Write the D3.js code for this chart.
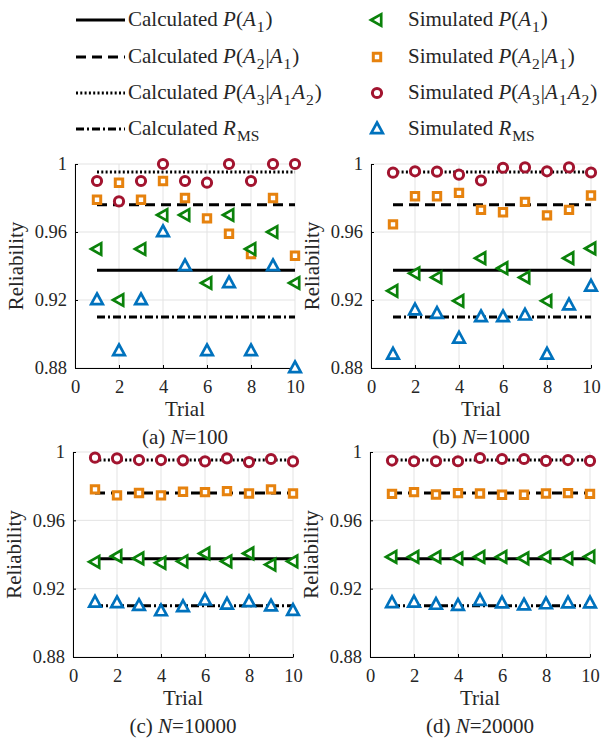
<!DOCTYPE html>
<html>
<head>
<meta charset="utf-8">
<script src="https://cdn.jsdelivr.net/npm/d3@7"></script>
<style>
  body { margin: 0; background: #fff; }
  svg text { font-family: "Liberation Serif", "Times New Roman", serif; fill: #262626; }
</style>
</head>
<body>
<div id="main"></div>
<script>
// ---- data ----
const trials = [1, 2, 3, 4, 5, 6, 7, 8, 9, 10];
const xTicks = [0, 2, 4, 6, 8, 10];
const yTicks = [0.88, 0.92, 0.96, 1];
const yTickLabels = ["0.88", "0.92", "0.96", "1"];

// calculated values (same in every panel)
const calcA1 = 0.9375;
const calcA2 = 0.976;
const calcA3 = 0.9953;
const calcRms = 0.910;

const panelNames = ["(a) ", "(b) ", "(c) ", "(d) "];
const panelN = ["100", "1000", "10000", "20000"];

// simulated values, one array per panel
const simA1 = [
  [0.95, 0.92, 0.95, 0.97, 0.97, 0.93, 0.97, 0.95, 0.96, 0.93],
  [0.9254, 0.9357, 0.9333, 0.9195, 0.9446, 0.9387, 0.9333, 0.9195, 0.9446, 0.9503],
  [0.9357, 0.939, 0.9377, 0.9351, 0.936, 0.9406, 0.936, 0.9406, 0.9341, 0.936],
  [0.9386, 0.9386, 0.9386, 0.9378, 0.9386, 0.9386, 0.9378, 0.9386, 0.9378, 0.9388]
];
const simA2 = [
  [0.979, 0.989, 0.979, 0.99, 0.98, 0.968, 0.959, 0.947, 0.98, 0.946],
  [0.9645, 0.981, 0.981, 0.983, 0.973, 0.9716, 0.9777, 0.9698, 0.973, 0.9815],
  [0.9781, 0.9746, 0.976, 0.9746, 0.9767, 0.9765, 0.9771, 0.9757, 0.9781, 0.9757],
  [0.9755, 0.9765, 0.9751, 0.9759, 0.9757, 0.975, 0.975, 0.9757, 0.9759, 0.9755]
];
const simA3 = [
  [0.99, 0.978, 0.99, 1, 0.99, 0.989, 1, 0.99, 1, 1],
  [0.9949, 0.9957, 0.9955, 0.9937, 0.9903, 0.9978, 0.998, 0.9957, 0.998, 0.995],
  [0.9967, 0.9963, 0.9953, 0.9953, 0.9951, 0.9945, 0.9963, 0.9941, 0.9959, 0.9945],
  [0.995, 0.9946, 0.9946, 0.9946, 0.9965, 0.9959, 0.9959, 0.9948, 0.9953, 0.9948]
];
const simRms = [
  [0.92, 0.89, 0.92, 0.96, 0.94, 0.89, 0.93, 0.89, 0.94, 0.88],
  [0.888, 0.914, 0.912, 0.8974, 0.91, 0.91, 0.911, 0.888, 0.917, 0.928],
  [0.912, 0.9116, 0.91, 0.9069, 0.9093, 0.9132, 0.9108, 0.9122, 0.9097, 0.9071],
  [0.9117, 0.912, 0.9107, 0.9101, 0.913, 0.9115, 0.9103, 0.911, 0.9115, 0.9115]
];

// ---- style ----
const red = "#a2142f", orange = "#e6820e", green = "#0a820a", blue = "#0072bd";
const dashes = { solid: null, dashed: "10,6", dotted: "2,2.3", dashdot: "8,3,2,3" };
const serif = "'Liberation Serif', 'Times New Roman', serif";

const svgWidth = 616, svgHeight = 738;
const svg = d3.select("#main").append("svg")
  .attr("width", svgWidth)
  .attr("height", svgHeight);

// marker paths centred on 0,0
const markerPath = {
  left: "M-6,0L4.2,-5.8L4.2,5.8Z",
  up: "M0,-6.5L5.8,4.2L-5.8,4.2Z",
  square: "M-3.7,-3.7H3.7V3.7H-3.7Z"
};

function drawMarker(g, kind, color, cx, cy) {
  if (kind === "circle") {
    g.append("circle").attr("cx", cx).attr("cy", cy).attr("r", 4.6)
      .attr("fill", "#fff").attr("stroke", color).attr("stroke-width", 3);
  } else {
    g.append("path").attr("d", markerPath[kind])
      .attr("transform", "translate(" + cx + "," + cy + ")")
      .attr("fill", "#fff").attr("stroke", color)
      .attr("stroke-width", kind === "square" ? 3 : 2.7)
      .attr("stroke-linejoin", "miter");
  }
}

// ---- legend ----
const legendCalc = [
  [["Calculated ", ""], ["P", "i"], ["(", ""], ["A", "i"], ["1", "s"], [")", ""]],
  [["Calculated ", ""], ["P", "i"], ["(", ""], ["A", "i"], ["2", "s"], ["|", ""], ["A", "i"], ["1", "s"], [")", ""]],
  [["Calculated ", ""], ["P", "i"], ["(", ""], ["A", "i"], ["3", "s"], ["|", ""], ["A", "i"], ["1", "s"], ["A", "i"], ["2", "s"], [")", ""]],
  [["Calculated ", ""], ["R", "i"], ["MS", "s"]]
];
const legendSim = legendCalc.map(parts => [["Simulated ", ""]].concat(parts.slice(1)));
const legendDash = ["solid", "dashed", "dotted", "dashdot"];
const legendMarker = ["left", "square", "circle", "up"];
const legendColor = [green, orange, red, blue];
const legendRows = [20, 57, 93, 129];

function richText(g, x, y, parts) {
  const t = g.append("text").attr("x", x).attr("y", y).style("font-size", "21px");
  let shifted = false;
  parts.forEach(p => {
    const s = t.append("tspan").text(p[0]);
    if (p[1] === "i") s.style("font-style", "italic");
    if (p[1] === "s") {
      s.style("font-size", "15.5px").attr("dx", shifted ? 0 : 1).attr("dy", shifted ? 0 : 6);
      shifted = true;
    } else if (shifted) {
      s.attr("dy", -6).attr("dx", 1);
      shifted = false;
    }
  });
  return t;
}

const legend = svg.append("g");
legendRows.forEach((ry, i) => {
  legend.append("line")
    .attr("x1", 76).attr("x2", 125).attr("y1", ry).attr("y2", ry)
    .attr("stroke", "#000").attr("stroke-width", 3)
    .attr("stroke-dasharray", dashes[legendDash[i]]);
  richText(legend, 128, ry + 6, legendCalc[i]);
  drawMarker(legend, legendMarker[i], legendColor[i], 377, ry);
  richText(legend, 408, ry + 6, legendSim[i]);
});

// ---- panels ----
const panels = [
  { left: 75, top: 164, bottom: 368 },
  { left: 371, top: 164, bottom: 368 },
  { left: 73, top: 452, bottom: 657 },
  { left: 370, top: 452, bottom: 657 }
];
const plotWidth = 220;

panels.forEach((p, k) => {
  const g = svg.append("g");
  const x = d3.scaleLinear().domain([0, 10]).range([p.left, p.left + plotWidth]);
  const y = d3.scaleLinear().domain([0.88, 1]).range([p.bottom, p.top]);

  // grid
  g.selectAll(".gx").data(xTicks).enter().append("line")
    .attr("x1", d => x(d)).attr("x2", d => x(d))
    .attr("y1", p.top).attr("y2", p.bottom)
    .attr("stroke", "#e3e3e3").attr("stroke-width", 1);
  g.selectAll(".gy").data(yTicks).enter().append("line")
    .attr("x1", x(0)).attr("x2", x(10))
    .attr("y1", d => y(d)).attr("y2", d => y(d))
    .attr("stroke", "#e3e3e3").attr("stroke-width", 1);

  // axes
  const xAxis = d3.axisBottom(x).tickValues(xTicks).tickFormat(d3.format("d"))
    .tickSizeInner(-3).tickSizeOuter(0).tickPadding(12);
  const yAxis = d3.axisLeft(y).tickValues(yTicks).tickFormat((d, i) => yTickLabels[i])
    .tickSizeInner(-3).tickSizeOuter(0).tickPadding(8);

  const gx = g.append("g").attr("transform", "translate(0," + p.bottom + ")").call(xAxis);
  const gy = g.append("g").attr("transform", "translate(" + p.left + ",0)").call(yAxis);
  [gx, gy].forEach(a => {
    a.attr("font-family", serif).attr("font-size", 18);
    a.selectAll("text").style("font-size", "18.5px").style("font-family", serif).attr("fill", "#262626");
    a.select(".domain").attr("stroke", "#000");
    a.selectAll(".tick line").attr("stroke", "#000");
  });

  // labels
  g.append("text")
    .attr("transform", "translate(" + (p.left - 59) + "," + ((p.top + p.bottom) / 2) + ") rotate(-90)")
    .attr("text-anchor", "middle").attr("dy", "0.35em")
    .style("font-size", "21px").text("Reliability");
  g.append("text")
    .attr("x", x(5)).attr("y", p.bottom + 41).attr("dy", "0.35em")
    .attr("text-anchor", "middle").style("font-size", "21px").text("Trial");
  const cap = g.append("text")
    .attr("x", x(5)).attr("y", p.bottom + 69).attr("dy", "0.35em")
    .attr("text-anchor", "middle").style("font-size", "21px");
  cap.append("tspan").text(panelNames[k]);
  cap.append("tspan").style("font-style", "italic").text("N");
  cap.append("tspan").text("=" + panelN[k]);

  // calculated lines
  const calc = [[calcA1, "solid"], [calcA2, "dashed"], [calcA3, "dotted"], [calcRms, "dashdot"]];
  calc.forEach(c => {
    g.append("line")
      .attr("x1", x(trials[0])).attr("x2", x(trials[trials.length - 1]))
      .attr("y1", y(c[0])).attr("y2", y(c[0]))
      .attr("stroke", "#000").attr("stroke-width", 3)
      .attr("stroke-dasharray", dashes[c[1]]);
  });

  // simulated markers
  const sims = [[simA3[k], "circle", red], [simA2[k], "square", orange],
                [simA1[k], "left", green], [simRms[k], "up", blue]];
  sims.forEach(s => {
    s[0].forEach((v, i) => drawMarker(g, s[1], s[2], x(trials[i]), y(v)));
  });
});
</script>
</body>
</html>
